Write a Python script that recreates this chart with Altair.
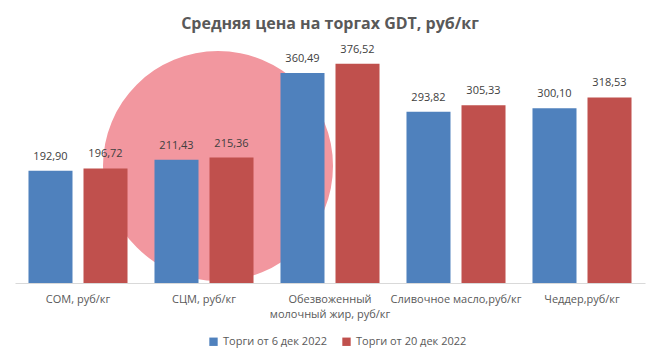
import altair as alt
import pandas as pd

categories = ["СОМ, руб/кг", "СЦМ, руб/кг", "Обезвоженный молочный жир, руб/кг",
              "Сливочное масло,руб/кг", "Чеддер,руб/кг"]
series = ["Торги от 6 дек 2022", "Торги от 20 дек 2022"]
values_dec6 = [192.90, 211.43, 360.49, 293.82, 300.10]
values_dec20 = [196.72, 215.36, 376.52, 305.33, 318.53]
colors = ["#4F81BD", "#C0504D"]

rows = []
for c, a, b in zip(categories, values_dec6, values_dec20):
    rows.append({"cat": c, "series": series[0], "v": a})
    rows.append({"cat": c, "series": series[1], "v": b})
df = pd.DataFrame(rows)

FONT = "Open Sans"
W, H = 630, 233

x = alt.X("cat:N", sort=categories, title=None,
          scale=alt.Scale(paddingInner=0.214, paddingOuter=0.107),
          axis=alt.Axis(labelAngle=0, ticks=False, domainColor="#D9D9D9",
                        labelColor="#595959", labelFont=FONT, labelFontSize=11,
                        labelPadding=10, labelLimit=200, labelLineHeight=15,
                        labelExpr="datum.value == 'Обезвоженный молочный жир, руб/кг' ? ['Обезвоженный', 'молочный жир, руб/кг'] : datum.label"))
y = alt.Y("v:Q", scale=alt.Scale(domain=[0, 400]), axis=None)
xo = alt.XOffset("series:N", sort=series,
                 scale=alt.Scale(paddingInner=0.2, paddingOuter=0))
color = alt.Color("series:N", sort=series,
                  scale=alt.Scale(domain=series, range=colors),
                  legend=alt.Legend(orient="none", legendX=193, legendY=286,
                                    direction="horizontal", title=None, symbolType="square",
                                    symbolSize=70, labelFont=FONT, labelFontSize=11,
                                    labelColor="#595959", columnPadding=14,
                                    symbolStrokeWidth=0))

logo = alt.Chart(pd.DataFrame({"k": [0]})).mark_circle(
    color="#F2979F", opacity=1, size=52900
).encode(x=alt.value(203), y=alt.value(116))

bars = alt.Chart(df).mark_bar().encode(x=x, xOffset=xo, y=y, color=color)
labels = alt.Chart(df).transform_calculate(
    lab="replace(format(datum.v, '.2f'), '.', ',')"
).mark_text(baseline="bottom", dy=-9, font=FONT, fontSize=11, color="#404040").encode(
    x=x, xOffset=xo, y=y, text="lab:N")

chart = alt.layer(logo, bars, labels).properties(
    width=W, height=H,
    title=alt.Title("Средняя цена на торгах GDT, руб/кг", font=FONT, fontSize=16,
                    fontWeight="bold", color="#595959", anchor="middle", offset=12),
    autosize=alt.AutoSizeParams(type="none"),
    padding={"left": 7, "top": 42, "right": 7, "bottom": 70},
).configure_view(stroke=None)

chart.save("out.html", embed_options={"renderer": "svg", "actions": False})
